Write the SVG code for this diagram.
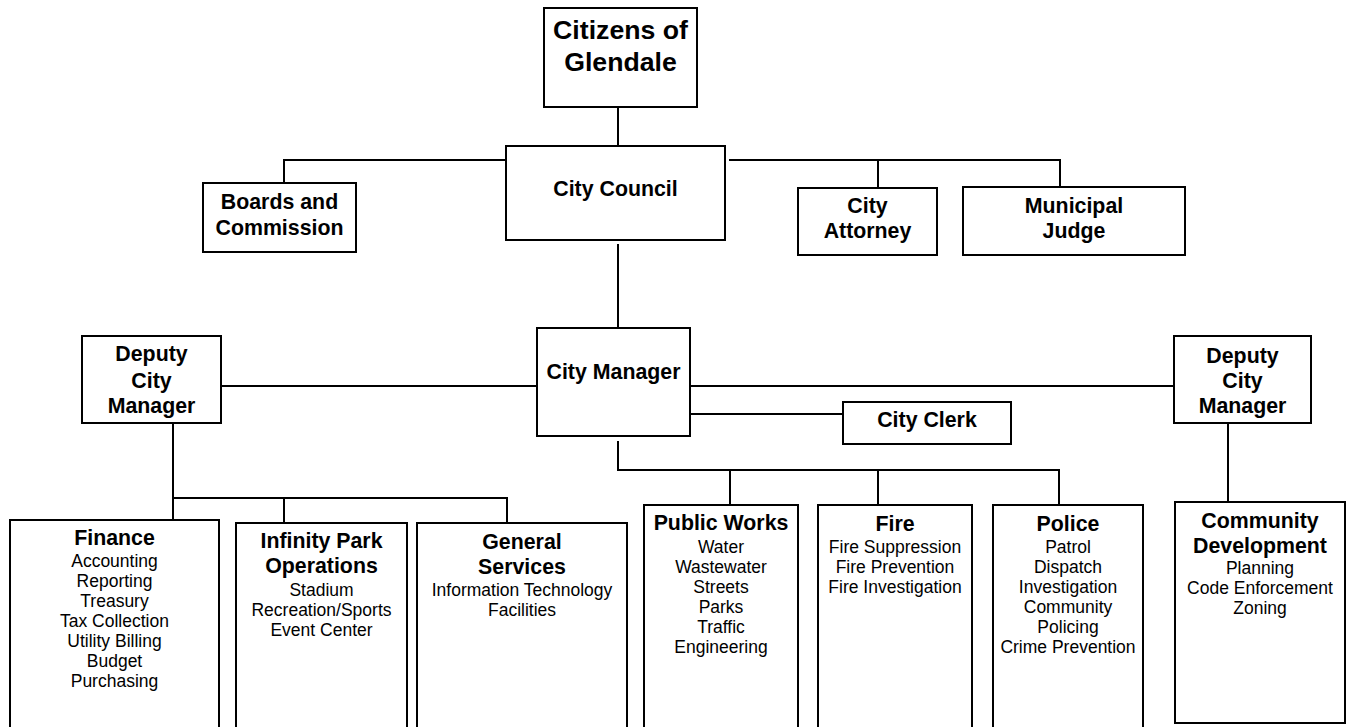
<svg xmlns="http://www.w3.org/2000/svg" width="1353" height="727" viewBox="0 0 1353 727">
<style>
rect{fill:#fff;stroke:#000;stroke-width:2}
.c path{fill:none;stroke:#000;stroke-width:2}
text{font-family:"Liberation Sans",Arial,sans-serif;text-anchor:middle;fill:#000}
.t{font-weight:bold;font-size:21.33px}
.b{font-size:17.5px}
.big{font-weight:bold;font-size:26.67px}
</style>
<rect width="1353" height="727" style="stroke:none"/>
<g class="c" id="connectors">
<path d="M618,107V146"/>
<path d="M284,183V160H506"/>
<path d="M729,160H1060V187M878,160V188"/>
<path d="M618,244V328"/>
<path d="M221,386H537"/>
<path d="M690,386H1174"/>
<path d="M690,414H843"/>
<path d="M618,441V470H1059V505M730,470V505M878,470V505"/>
<path d="M173,423V520M173,498H507V523M284,498V523"/>
<path d="M1228,423V502"/>
</g>
<g id="citizens"><rect x="544" y="8" width="153" height="99"/><text class="big" x="620.5" y="39">Citizens of</text><text class="big" x="620.5" y="71">Glendale</text></g>
<g id="council"><rect x="506" y="146" width="219" height="94"/><text class="t" x="615.5" y="195.5">City Council</text></g>
<g id="boards"><rect x="203" y="183" width="153" height="69"/><text class="t" x="279.5" y="209">Boards and</text><text class="t" x="279.5" y="235">Commission</text></g>
<g id="attorney"><rect x="798" y="188" width="139" height="67"/><text class="t" x="867.5" y="212.5">City</text><text class="t" x="867.5" y="237.5">Attorney</text></g>
<g id="judge"><rect x="963" y="187" width="222" height="68"/><text class="t" x="1074" y="212.5">Municipal</text><text class="t" x="1074" y="237.5">Judge</text></g>
<g id="manager"><rect x="537" y="328" width="153" height="108"/><text class="t" x="613.5" y="378.5">City Manager</text></g>
<g id="clerk"><rect x="843" y="402" width="168" height="42"/><text class="t" x="927" y="427">City Clerk</text></g>
<g id="deputy-left"><rect x="82" y="336" width="139" height="87"/><text class="t" x="151.5" y="360.5">Deputy</text><text class="t" x="151.5" y="387.5">City</text><text class="t" x="151.5" y="412.5">Manager</text></g>
<g id="deputy-right"><rect x="1174" y="336" width="137" height="87"/><text class="t" x="1242.5" y="362.5">Deputy</text><text class="t" x="1242.5" y="387.5">City</text><text class="t" x="1242.5" y="412.5">Manager</text></g>
<g id="finance"><rect x="10" y="520" width="209" height="230"/><text class="t" x="114.5" y="545">Finance</text>
<text class="b" x="114.5" y="567">Accounting</text><text class="b" x="114.5" y="587">Reporting</text><text class="b" x="114.5" y="607">Treasury</text><text class="b" x="114.5" y="627">Tax Collection</text><text class="b" x="114.5" y="647">Utility Billing</text><text class="b" x="114.5" y="667">Budget</text><text class="b" x="114.5" y="687">Purchasing</text></g>
<g id="infinity"><rect x="236" y="523" width="171" height="230"/><text class="t" x="321.5" y="547.5">Infinity Park</text><text class="t" x="321.5" y="573">Operations</text>
<text class="b" x="321.5" y="596">Stadium</text><text class="b" x="321.5" y="616">Recreation/Sports</text><text class="b" x="321.5" y="636">Event Center</text></g>
<g id="general"><rect x="417" y="523" width="210" height="230"/><text class="t" x="522" y="548.5">General</text><text class="t" x="522" y="573.5">Services</text>
<text class="b" x="522" y="596">Information Technology</text><text class="b" x="522" y="616">Facilities</text></g>
<g id="publicworks"><rect x="644" y="505" width="154" height="250"/><text class="t" x="721" y="530">Public Works</text>
<text class="b" x="721" y="553">Water</text><text class="b" x="721" y="573">Wastewater</text><text class="b" x="721" y="593">Streets</text><text class="b" x="721" y="613">Parks</text><text class="b" x="721" y="633">Traffic</text><text class="b" x="721" y="653">Engineering</text></g>
<g id="fire"><rect x="818" y="505" width="154" height="250"/><text class="t" x="895" y="531">Fire</text>
<text class="b" x="895" y="553">Fire Suppression</text><text class="b" x="895" y="573">Fire Prevention</text><text class="b" x="895" y="593">Fire Investigation</text></g>
<g id="police"><rect x="993" y="505" width="150" height="250"/><text class="t" x="1068" y="531">Police</text>
<text class="b" x="1068" y="553">Patrol</text><text class="b" x="1068" y="573">Dispatch</text><text class="b" x="1068" y="593">Investigation</text><text class="b" x="1068" y="613">Community</text><text class="b" x="1068" y="633">Policing</text><text class="b" x="1068" y="653">Crime Prevention</text></g>
<g id="community"><rect x="1175" y="502" width="170" height="221"/><text class="t" x="1260" y="527.5">Community</text><text class="t" x="1260" y="552.5">Development</text>
<text class="b" x="1260" y="574">Planning</text><text class="b" x="1260" y="594">Code Enforcement</text><text class="b" x="1260" y="614">Zoning</text></g>
</svg>
